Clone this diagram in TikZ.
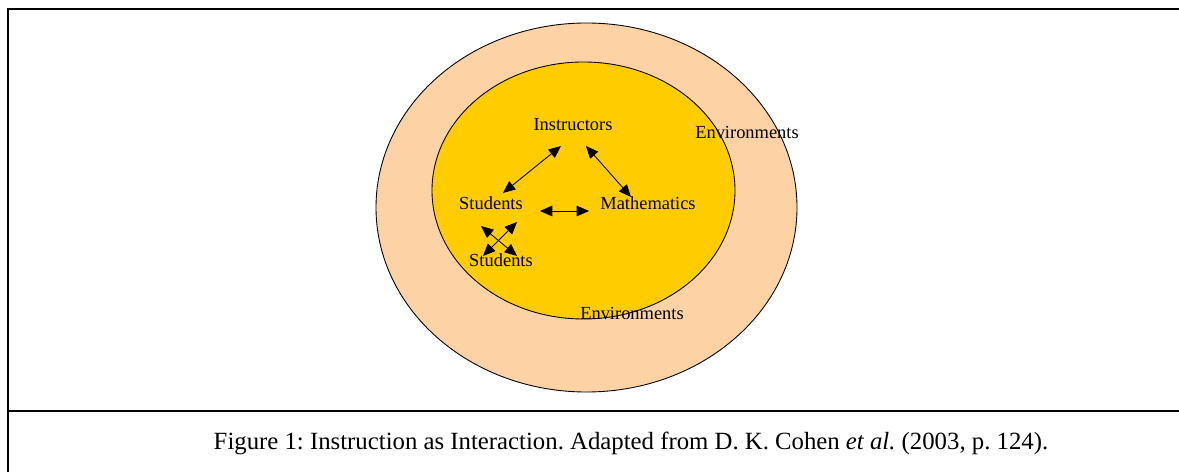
\documentclass[tikz,border=0pt]{standalone}
\usepackage{fontspec}
\setmainfont{Liberation Serif}
\usepackage{tikz}
\usetikzlibrary{arrows.meta,backgrounds,calc}
\frenchspacing

\tikzset{
  lbl/.style={inner sep=0pt, font=\fontsize{10.5}{12}\selectfont},
  inter/.style={{Triangle[length=7pt,width=6pt]}-{Triangle[length=7pt,width=6pt]}, line width=0.5pt},
  frame/.style={line width=0.9pt}
}

\begin{document}
\begin{tikzpicture}[x=0.02cm,y=-0.02cm]
\useasboundingbox (0,0) rectangle (1179,472);
\fill[white] (0,0) rectangle (1179,472);
\draw[fill={rgb,255:red,253;green,210;blue,165}, line width=0.5pt] (586.5,207.5) ellipse [x radius=210.5, y radius=184.5];
\draw[fill={rgb,255:red,255;green,204;blue,0}, line width=0.5pt] (583.5,190.5) ellipse [x radius=151.5, y radius=128.5];
\node[lbl] (instr) at (573,125) {Instructors};
\node[lbl] (envup) at (747,132) {Environments};
\node[lbl] (stud) at (491,203) {Students};
\node[lbl] (math) at (648,203) {Mathematics};
\node[lbl] (studlow) at (501,260) {Students};
\node[lbl] (envlow) at (632,313) {Environments};
\coordinate (a1) at (561,146);
\coordinate (a2) at (503,193);
\coordinate (b1) at (586,146);
\coordinate (b2) at (631,197);
\coordinate (c1) at (540,211);
\coordinate (c2) at (589,211);
\coordinate (d1) at (481,226);
\coordinate (d2) at (517,256);
\coordinate (e1) at (517,222);
\coordinate (e2) at (483,256);
\draw[inter] (a2) -- (a1);
\draw[inter] (b1) -- (b2);
\draw[inter] (c1) -- (c2);
\draw[inter] (d1) -- (d2);
\draw[inter] (e1) -- (e2);
\coordinate (tl) at (8,9);
\coordinate (tr) at (1179,9);
\coordinate (bl) at (8,472);
\coordinate (ml) at (8,411);
\coordinate (mr) at (1179,411);
\draw[frame] (tr) -- (tl) -- (bl);
\draw[frame] (ml) -- (mr);
\node[inner sep=0pt, font=\fontsize{14.1}{16}\selectfont] (caption) at (631,443) {Figure 1: Instruction as Interaction. Adapted from D. K. Cohen \textit{et al.} (2003, p. 124).};
\end{tikzpicture}
\end{document}
